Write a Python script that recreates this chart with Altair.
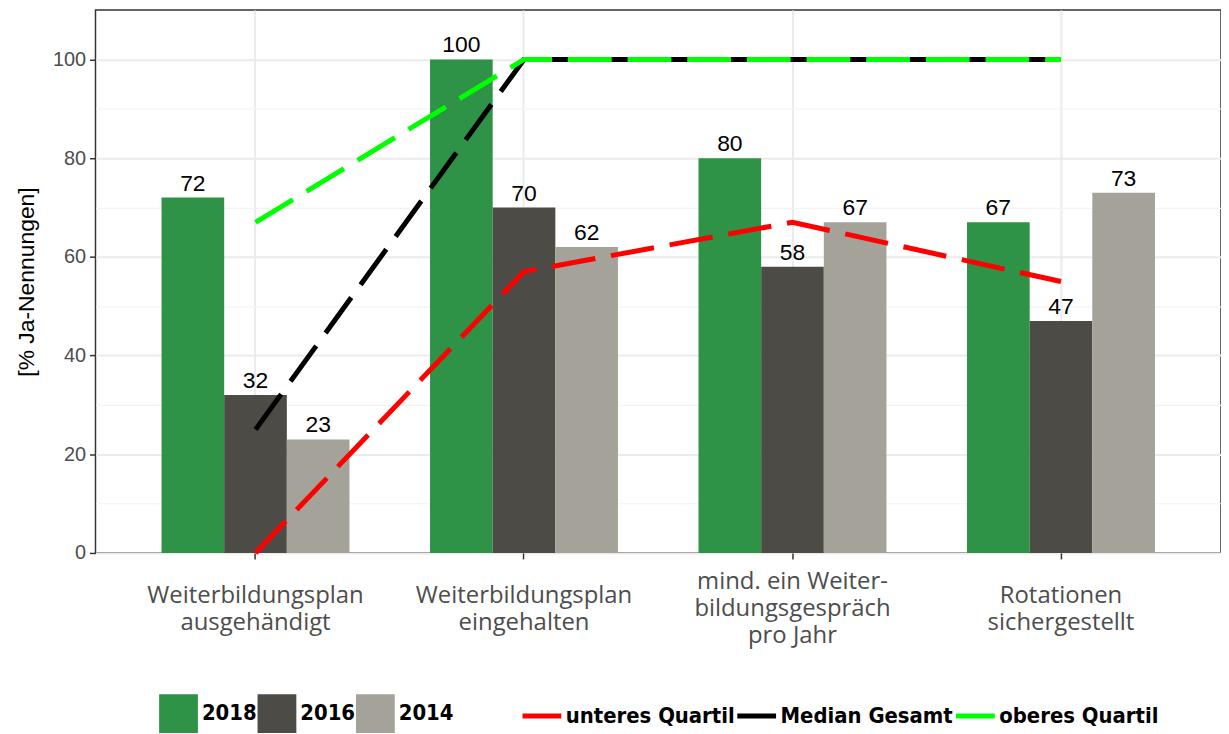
import altair as alt
import pandas as pd

categories = [
    "Weiterbildungsplan\nausgehändigt",
    "Weiterbildungsplan\neingehalten",
    "mind. ein Weiter-\nbildungsgespräch\npro Jahr",
    "Rotationen\nsichergestellt",
]
years = ["2018", "2016", "2014"]
values_2018 = [72, 100, 80, 67]
values_2016 = [32, 70, 58, 47]
values_2014 = [23, 62, 67, 73]

line_names = ["unteres Quartil", "Median Gesamt", "oberes Quartil"]
unteres_quartil = [0, 57, 67, 55]
median_gesamt = [25, 100, 100, 100]
oberes_quartil = [67, 100, 100, 100]

bar_colors = ["#2E9247", "#4D4B46", "#A5A29A"]
line_colors = ["#FF0000", "#000000", "#00FF00"]

bar_rows = []
for yr, vals in zip(years, [values_2018, values_2016, values_2014]):
    for c, v in zip(categories, vals):
        bar_rows.append({"Kategorie": c, "Jahr": yr, "Wert": v})
bars_df = pd.DataFrame(bar_rows)

line_rows = []
for name, vals in zip(line_names, [unteres_quartil, median_gesamt, oberes_quartil]):
    for c, v in zip(categories, vals):
        line_rows.append({"Kategorie": c, "Linie": name, "Wert": v})
lines_df = pd.DataFrame(line_rows)

minor = "datum.value % 20 == 0"
legend_font = "DejaVu Sans Condensed, Open Sans, sans-serif"

x_enc = alt.X(
    "Kategorie:N",
    sort=categories,
    title=None,
    scale=alt.Scale(paddingInner=0.3, paddingOuter=0.246),
    axis=alt.Axis(
        labelExpr="split(datum.label, '\\n')",
        bandPosition=0.5,
        labelAngle=0,
        labelFont="Open Sans",
        labelFontSize=24,
        labelColor="#4D4D4D",
        labelLineHeight=27,
        labelPadding={
            "condition": {"test": "length(split(datum.value, '\\n')) > 2", "value": 23},
            "value": 37,
        },
        labelLimit=0,
        labelBaseline="middle",
        tickColor="#333333",
        tickSize=6,
        tickWidth=1.5,
        grid=True,
        gridColor="#EBEBEB",
        gridWidth=2,
    ),
)
y_enc = alt.Y(
    "Wert:Q",
    title="[% Ja-Nennungen]",
    scale=alt.Scale(domain=[0, 110], nice=False, zero=True),
    axis=alt.Axis(
        values=list(range(0, 101, 10)),
        labelExpr=f"{minor} ? datum.label : ''",
        labelFont="Liberation Sans",
        labelFontSize=20,
        labelColor="#4D4D4D",
        labelPadding=4,
        tickColor="#333333",
        tickSize=6,
        tickWidth=1.5,
        tickOpacity={"condition": {"test": minor, "value": 1}, "value": 0},
        gridColor={"condition": {"test": minor, "value": "#EBEBEB"}, "value": "#F3F3F3"},
        gridWidth={"condition": {"test": minor, "value": 2}, "value": 1.2},
        titleFont="Liberation Sans",
        titleFontSize=23,
        titleFontWeight="normal",
        titleColor="#000000",
        titlePadding=14,
    ),
)

base_bars = alt.Chart(bars_df)
bars = base_bars.mark_bar().encode(
    x=x_enc,
    xOffset=alt.XOffset("Jahr:N", sort=years, scale=alt.Scale(paddingInner=0, paddingOuter=0)),
    y=y_enc,
    fill=alt.Fill(
        "Jahr:N",
        sort=years,
        scale=alt.Scale(domain=years, range=bar_colors),
        legend=alt.Legend(
            title=None,
            orient="none",
            legendX=64,
            legendY=688,
            direction="horizontal",
            symbolType="square",
            symbolSize=1521,
            symbolStrokeWidth=0,
            symbolOpacity=1,
            labelFont=legend_font,
            labelFontSize=22,
            labelFontWeight="bold",
            labelColor="#000000",
            labelOffset=4,
            labelLimit=0,
            columnPadding=0,
            padding=0,
        ),
    ),
)
labels = base_bars.mark_text(
    baseline="bottom", dy=-2, font="Liberation Sans", fontSize=23, color="#000000"
).encode(
    x=alt.X("Kategorie:N", sort=categories),
    xOffset=alt.XOffset("Jahr:N", sort=years),
    y="Wert:Q",
    text="Wert:Q",
)
lines = alt.Chart(lines_df).mark_line(
    strokeWidth=5, strokeDash=[44, 16], strokeCap="butt"
).encode(
    x=alt.X("Kategorie:N", sort=categories),
    y="Wert:Q",
    stroke=alt.Stroke(
        "Linie:N",
        sort=line_names,
        scale=alt.Scale(domain=line_names, range=line_colors),
        legend=alt.Legend(
            title=None,
            orient="none",
            legendX=427,
            legendY=688,
            direction="horizontal",
            symbolType="stroke",
            symbolSize=1521,
            symbolStrokeWidth=5,
            symbolDash=[1, 0],
            labelFont=legend_font,
            labelFontSize=22,
            labelFontWeight="bold",
            labelColor="#000000",
            labelOffset=2,
            labelLimit=0,
            columnPadding=-9,
            padding=0,
        ),
    ),
)

chart = (
    alt.layer(bars, labels, lines)
    .properties(
        width=1132,
        height=546,
        padding={"left": 7, "top": 0, "right": 0, "bottom": 0},
        background="white",
    )
    .configure_view(stroke="#333333", strokeWidth=1.5)
    .configure_axis(domain=False)
)

chart.save("out.html", embed_options={"renderer": "svg", "actions": False})
